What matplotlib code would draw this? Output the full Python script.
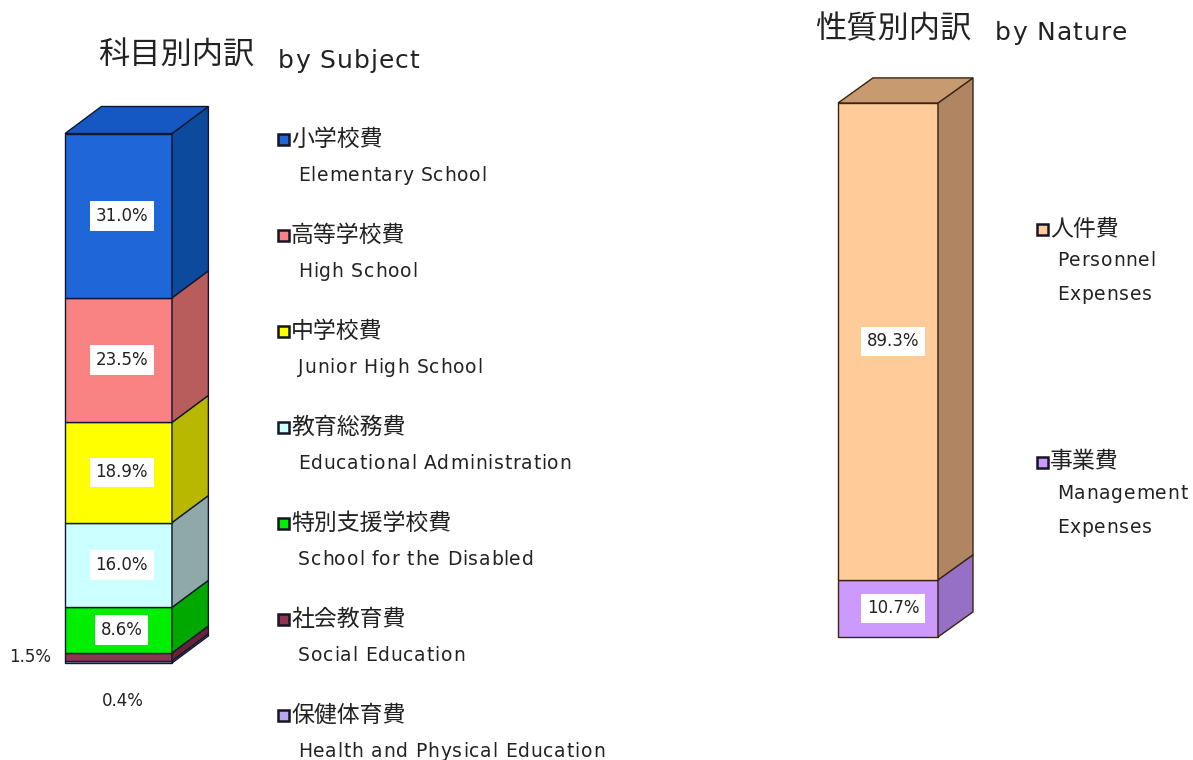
import numpy as np
import matplotlib
matplotlib.use('Agg')
from matplotlib import pyplot as plt
from matplotlib.patches import Rectangle, Polygon
from matplotlib.font_manager import findfont, FontProperties
from matplotlib.ft2font import FT2Font

plt.rcParams['font.family'] = ['DejaVu Sans', 'Noto Sans CJK JP']

# by subject (top of bar first)
subject_jp = ['小学校費', '高等学校費', '中学校費', '教育総務費', '特別支援学校費', '社会教育費', '保健体育費']
subject_en = ['Elementary School', 'High School', 'Junior High School', 'Educational Administration',
              'School for the Disabled', 'Social Education', 'Health and Physical Education']
subject_pct = [31.0, 23.5, 18.9, 16.0, 8.6, 1.5, 0.4]
subject_front = ['#1f66d8', '#f98282', '#ffff00', '#ccffff', '#00ee00', '#8e3550', '#b8a8ee']
subject_side = ['#0b4a9c', '#b85c5c', '#b8b800', '#8fa8a8', '#00a800', '#6a2238', '#8878b8']
subject_top = '#1558c4'

# by nature
nature_jp = ['人件費', '事業費']
nature_en = ['Personnel\nExpenses', 'Management\nExpenses']
nature_pct = [89.3, 10.7]
nature_front = ['#ffcc99', '#cc99ff']
nature_side = ['#b08662', '#9570c4']
nature_top = '#c89a70'

W, H = 1193, 760
DPI = 100
fig = plt.figure(figsize=(W / DPI, H / DPI), dpi=DPI)
TXT = '#222222'

latin_font = FT2Font(findfont(FontProperties(family='DejaVu Sans')))


def tracked(x, y, s, size, track):
    # draw latin text char by char (pixel coords, y = baseline) with extra letter spacing
    latin_font.set_size(size, DPI)
    cx = x
    for ch in s:
        g = latin_font.load_char(ord(ch))
        if ch != ' ':
            fig.text(cx / W, 1 - y / H, ch, fontsize=size, va='baseline', ha='left',
                     color=TXT, family='DejaVu Sans')
        cx += g.linearHoriAdvance / 65536 + track
    return cx


def cjk(x, y, s, size):
    fig.text(x / W, 1 - y / H, s, fontsize=size, va='center', ha='left', color=TXT,
             family='Noto Sans CJK JP')


def px_axes(x0, y0, x1, y1):
    # axes whose box is the front face of the bar (pixel coords, y down)
    ax = fig.add_axes([x0 / W, 1 - y1 / H, (x1 - x0) / W, (y1 - y0) / H])
    ax.set_xlim(0, 1)
    ax.set_ylim(0, 100)
    ax.axis('off')
    return ax


def bar3d(ax, pcts, fronts, sides, top_col, dx, dy, edge):
    # pcts given top-first, stack from the bottom
    pcts = pcts[::-1]
    fronts = fronts[::-1]
    sides = sides[::-1]
    bottoms = np.concatenate([[0], np.cumsum(pcts)[:-1]])
    for p, b, fc, sc in zip(pcts, bottoms, fronts, sides):
        t = b + p
        ax.add_patch(Rectangle((0, b), 1, p, facecolor=fc, edgecolor=edge, lw=1.0, clip_on=False))
        ax.add_patch(Polygon([(1, b), (1 + dx, b + dy), (1 + dx, t + dy), (1, t)],
                             facecolor=sc, edgecolor=edge, lw=1.0, clip_on=False))
    t = bottoms[-1] + pcts[-1]
    ax.add_patch(Polygon([(0, t), (dx, t + dy), (1 + dx, t + dy), (1, t)],
                         facecolor=top_col, edgecolor=edge, lw=1.0, clip_on=False))
    return bottoms


def box_label(ax, x, y, s):
    ax.text(x, y, s, ha='center', va='center', fontsize=12, color=TXT,
            bbox=dict(boxstyle='square,pad=0.35', facecolor='white', edgecolor='none'))


# left bar
ax1 = px_axes(65, 133, 172, 663)
b1 = bar3d(ax1, subject_pct, subject_front, subject_side, subject_top, 0.34, 5.1, '#101830')
pcts_up = subject_pct[::-1]
for p, b in zip(pcts_up, b1):
    if p >= 5:
        box_label(ax1, 0.53, b + p / 2, f'{p:.1f}%')
ax1.text(-0.33, b1[1] + pcts_up[1] / 2, f'{pcts_up[1]:.1f}%', ha='center', va='center',
         fontsize=12, color=TXT)
ax1.text(0.54, -7.2, f'{pcts_up[0]:.1f}%', ha='center', va='center', fontsize=12, color=TXT)

# right bar
ax2 = px_axes(838, 103, 938, 637)
b2 = bar3d(ax2, nature_pct, nature_front, nature_side, nature_top, 0.35, 4.7, '#3a2414')
for p, b in zip(nature_pct[::-1], b2):
    box_label(ax2, 0.55, b + p / 2, f'{p:.1f}%')

# titles
cjk(98, 56, '科目別内訳', 22.5)
tracked(278, 68, 'by Subject', 18, 1.0)
cjk(815, 29, '性質別内訳', 22.5)
tracked(995, 40, 'by Nature', 18, 1.0)


def legend_item(x, y, col, jp, en, base0, line_gap):
    fig.add_artist(Rectangle((x / W, 1 - (y + 6) / H), 11 / W, 11 / H, facecolor=col,
                             edgecolor='#151525', lw=1.8, transform=fig.transFigure))
    cjk(x + 13, y, jp, 16.5)
    for i, line in enumerate(en.split('\n')):
        tracked(x + 20, base0 + line_gap * i, line, 13.5, 0.8)


for i, (jp, en, col) in enumerate(zip(subject_jp, subject_en, subject_front)):
    legend_item(278, 139 + 96 * i, col, jp, en, 181 + 96 * i, 33)

for i, (jp, en, col) in enumerate(zip(nature_jp, nature_en, nature_front)):
    legend_item(1037, 229 + 233 * i, col, jp, en, 266 + 233 * i, 34)

fig.savefig('out.png', dpi=DPI)
